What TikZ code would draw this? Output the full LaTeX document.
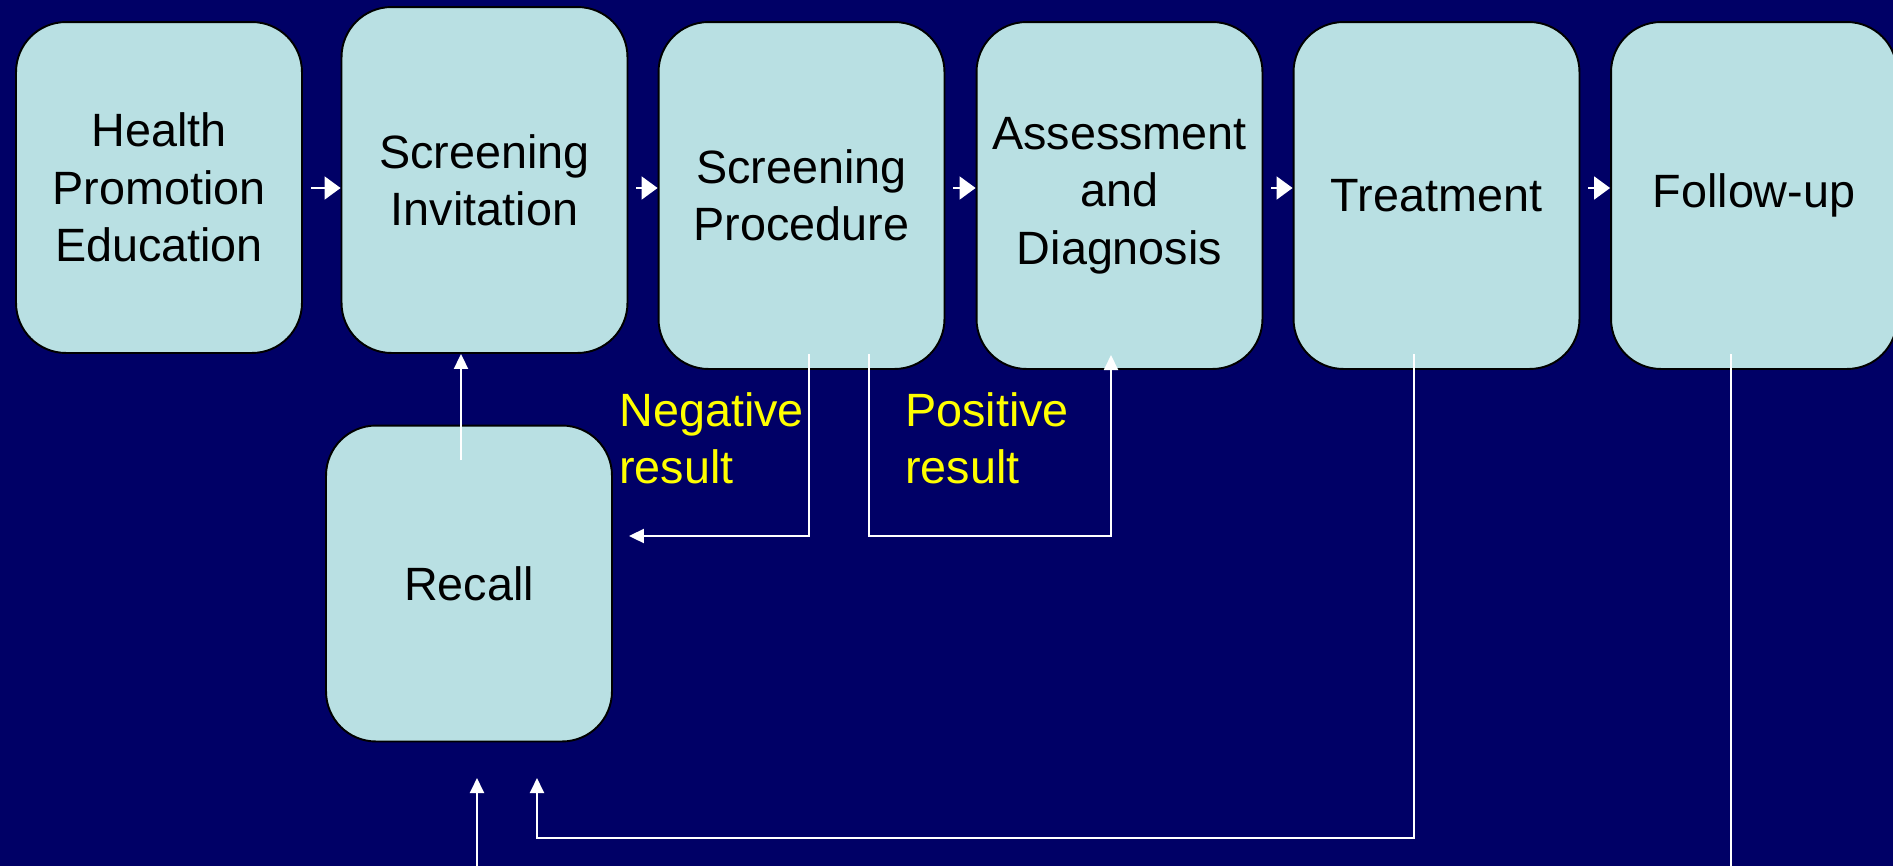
\documentclass[tikz,border=0pt]{standalone}
\usepackage{fontspec}
\setmainfont{Liberation Sans}
\usetikzlibrary{arrows.meta}

\definecolor{navy}{RGB}{0,0,102}
\definecolor{boxcyan}{RGB}{185,224,227}
\definecolor{labelyellow}{RGB}{255,255,0}

\begin{document}
\begin{tikzpicture}[x=0.02cm, y=-0.02cm,
  stage/.style={draw=black, line width=1.1pt, fill=boxcyan, rounded corners=1cm,
    minimum width=5.72cm, minimum height=6.94cm, align=center, inner sep=0pt,
    font=\fontsize{26.6}{32.6}\selectfont},
  result/.style={text=labelyellow, align=left, anchor=west, inner sep=0pt,
    font=\fontsize{26.6}{32.6}\selectfont},
  line/.style={draw=white, line width=1.1pt},
  flow/.style={line, shorten <=0.16cm, -{Triangle[length=0.32cm, width=0.46cm]}},
  link/.style={line, -{Triangle[length=0.3cm, width=0.28cm]}}]
\fill[navy] (0,0) rectangle (1893,866);
\useasboundingbox (0,0) rectangle (1893,866);

% stages of the programme
\node[stage, minimum height=6.62cm] (health) at (159,187.5) {Health\\Promotion\\Education};
\node[stage, minimum height=6.92cm] (invite) at (484.5,180) {Screening\\Invitation};
\node[stage] (proc) at (801.5,195.5) {Screening\\Procedure};
\node[stage] (assess) at (1119.5,195.5) {Assessment\\and\\Diagnosis};
\node[stage] (treat) at (1436.5,195.5) {Treatment};
\node[stage] (follow) at (1754,195.5) {Follow-up};
\node[stage, minimum height=6.32cm] (recall) at (469,583.5) {Recall};

\node[result] (neg) at (619,438) {Negative\\result};
\node[result] (pos) at (905,438) {Positive\\result};

\coordinate (axis) at (0,188);
\coordinate (split) at (0,536);
\coordinate (loop) at (0,838);
\coordinate (recallup) at (461,460);
\coordinate (negout) at (809,354);
\coordinate (posout) at (869,354);
\coordinate (posin) at (1111,355);
\coordinate (treatout) at (1414,354);
\coordinate (backin) at (537,778);
\coordinate (followout) at (1731,354);
\coordinate (followend) at (1731,866);
\coordinate (loopend) at (477,866);
\coordinate (loopin) at (477,778);

\foreach \a/\b in {health/invite, invite/proc, proc/assess, assess/treat, treat/follow}
  \draw[flow] (\a.east |- axis) -- (\b.west |- axis);

\draw[link] (recallup) -- (recallup |- invite.south);
\draw[link, shorten >=0.32cm] (negout) |- (split -| recall.east);
\draw[link] (posout) |- (posin |- split) -- (posin);
\draw[link] (treatout) |- (backin |- loop) -- (backin);
\draw[line] (followout) -- (followend);
\draw[link] (loopend) -- (loopin);
\end{tikzpicture}
\end{document}
